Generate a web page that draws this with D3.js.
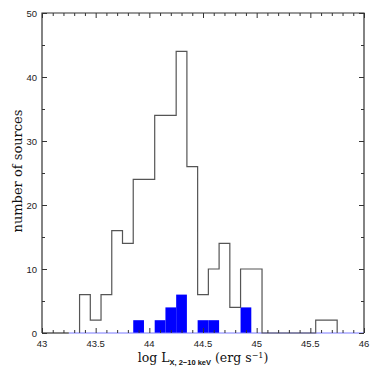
<!DOCTYPE html>
<html>
<head>
<meta charset="utf-8">
<script src="https://cdn.jsdelivr.net/npm/d3@7"></script>
<style>
  body { margin: 0; background: #fff; }
  svg { display: block; }
</style>
</head>
<body>
<script>
// ---- data ----
var binCenters = [43.4, 43.5, 43.6, 43.7, 43.8, 43.9, 44.0, 44.1, 44.2, 44.3, 44.4, 44.5,
                  44.6, 44.7, 44.8, 44.9, 45.0, 45.1, 45.2, 45.3, 45.4, 45.5, 45.6, 45.7]
var allCounts  = [6, 2, 6, 16, 14, 24, 24, 34, 34, 44, 26, 6,
                  10, 14, 4, 10, 10, 0, 0, 0, 0, 0, 2, 2]
var blueCounts = [0, 0, 0, 0, 0, 2, 0, 2, 4, 6, 0, 2,
                  2, 0, 0, 4, 0, 0, 0, 0, 0, 0, 0, 0]
var binWidth = 0.1
var xTickLabels = [43, 43.5, 44, 44.5, 45, 45.5, 46]
var yTickLabels = [0, 10, 20, 30, 40, 50]

// ---- layout ----
var W = 374, H = 379
var m = {top: 13, right: 10, bottom: 46, left: 42}

var svg = d3.select("body").append("svg")
  .attr("width", W).attr("height", H)

var x = d3.scaleLinear().domain([43, 46]).range([m.left, W - m.right])
var y = d3.scaleLinear().domain([0, 50]).range([H - m.bottom, m.top])

var g = svg.append("g")

// blue filled bars
g.selectAll("rect.blue")
  .data(binCenters.map(function (c, i) { return {c: c, n: blueCounts[i]} }).filter(function (d) { return d.n > 0 }))
  .enter().append("rect")
  .attr("class", "blue")
  .attr("x", function (d) { return x(d.c - binWidth / 2) })
  .attr("width", function (d) { return x(d.c + binWidth / 2) - x(d.c - binWidth / 2) })
  .attr("y", function (d) { return y(d.n) })
  .attr("height", function (d) { return y(0) - y(d.n) })
  .attr("fill", "#0000ff")

// blue baseline
g.append("line")
  .attr("x1", x(43.25)).attr("x2", x(46))
  .attr("y1", y(0)).attr("y2", y(0))
  .attr("stroke", "#7b7bff").attr("stroke-width", 1.2)

// black step histogram outline
var pts = [[binCenters[0] - binWidth / 2, 0]]
binCenters.forEach(function (c, i) {
  pts.push([c - binWidth / 2, allCounts[i]])
  pts.push([c + binWidth / 2, allCounts[i]])
})
pts.push([binCenters[binCenters.length - 1] + binWidth / 2, 0])

var line = d3.line()
  .x(function (d) { return x(d[0]) })
  .y(function (d) { return y(d[1]) })

g.append("path")
  .attr("d", line(pts))
  .attr("fill", "none")
  .attr("stroke", "#555")
  .attr("stroke-width", 1.2)

// ---- axes ----
var xMinor = d3.range(0, 31).map(function (i) { return 43 + i * 0.1 })
var yMinor = d3.range(0, 11).map(function (i) { return i * 5 })
function isMajorX(v) { return Math.abs(v * 2 - Math.round(v * 2)) < 1e-6 }

var axisCol = "#333"

// bottom ticks (inward)
g.append("g").attr("transform", "translate(0," + y(0) + ")")
  .call(d3.axisBottom(x).tickValues(xMinor).tickSize(0).tickFormat(""))
  .call(function (s) { s.select(".domain").remove() })
  .selectAll(".tick line")
  .attr("y2", function (d) { return isMajorX(d) ? -5 : -3 })
  .attr("stroke", axisCol)

// top ticks
g.append("g").attr("transform", "translate(0," + y(50) + ")")
  .call(d3.axisTop(x).tickValues(xMinor).tickSize(0).tickFormat(""))
  .call(function (s) { s.select(".domain").remove() })
  .selectAll(".tick line")
  .attr("y2", function (d) { return isMajorX(d) ? 5 : 3 })
  .attr("stroke", axisCol)

// left ticks
g.append("g").attr("transform", "translate(" + x(43) + ",0)")
  .call(d3.axisLeft(y).tickValues(yMinor).tickSize(0).tickFormat(""))
  .call(function (s) { s.select(".domain").remove() })
  .selectAll(".tick line")
  .attr("x2", function (d) { return d % 10 === 0 ? 5 : 3 })
  .attr("stroke", axisCol)

// right ticks
g.append("g").attr("transform", "translate(" + x(46) + ",0)")
  .call(d3.axisRight(y).tickValues(yMinor).tickSize(0).tickFormat(""))
  .call(function (s) { s.select(".domain").remove() })
  .selectAll(".tick line")
  .attr("x2", function (d) { return d % 10 === 0 ? -5 : -3 })
  .attr("stroke", axisCol)

// frame: left, top, right in dark; bottom already blue
g.append("path")
  .attr("d", "M" + x(43) + "," + y(0) + "V" + y(50) + "H" + x(46) + "V" + y(0))
  .attr("fill", "none").attr("stroke", axisCol).attr("stroke-width", 1.2)
g.append("line")
  .attr("x1", x(43)).attr("x2", x(43.25)).attr("y1", y(0)).attr("y2", y(0))
  .attr("stroke", axisCol).attr("stroke-width", 1.2)

// tick labels
var tickFont = "'Liberation Sans', Arial, sans-serif"
g.selectAll("text.xl").data(xTickLabels).enter().append("text")
  .attr("x", function (d) { return x(d) })
  .attr("y", y(0) + 14)
  .attr("text-anchor", "middle")
  .attr("font-family", tickFont).attr("font-size", 9.5)
  .attr("fill", "#222")
  .text(function (d) { return d })

g.selectAll("text.yl").data(yTickLabels).enter().append("text")
  .attr("x", x(43) - 5)
  .attr("y", function (d) { return y(d) + 3.5 })
  .attr("text-anchor", "end")
  .attr("font-family", tickFont).attr("font-size", 9.5)
  .attr("fill", "#222")
  .text(function (d) { return d })

// axis titles
var serif = "'DejaVu Serif', 'Liberation Serif', serif"
var xt = svg.append("text")
  .attr("x", 203).attr("y", 362)
  .attr("text-anchor", "middle")
  .attr("font-family", serif).attr("font-size", 12.5)
  .attr("fill", "#111")
xt.append("tspan").text("log  L")
xt.append("tspan").attr("dy", 3).attr("font-size", 7.5)
  .attr("font-family", tickFont).attr("font-weight", "bold").text("X, 2\u221210 keV")
xt.append("tspan").attr("dy", -3).text(" (erg s")
xt.append("tspan").attr("dy", -4).attr("font-size", 8).text("\u22121")
xt.append("tspan").attr("dy", 4).text(")")

svg.append("text")
  .attr("transform", "translate(22,171) rotate(-90)")
  .attr("text-anchor", "middle")
  .attr("font-family", serif).attr("font-size", 13)
  .attr("fill", "#111")
  .text("number of sources")
</script>
</body>
</html>
